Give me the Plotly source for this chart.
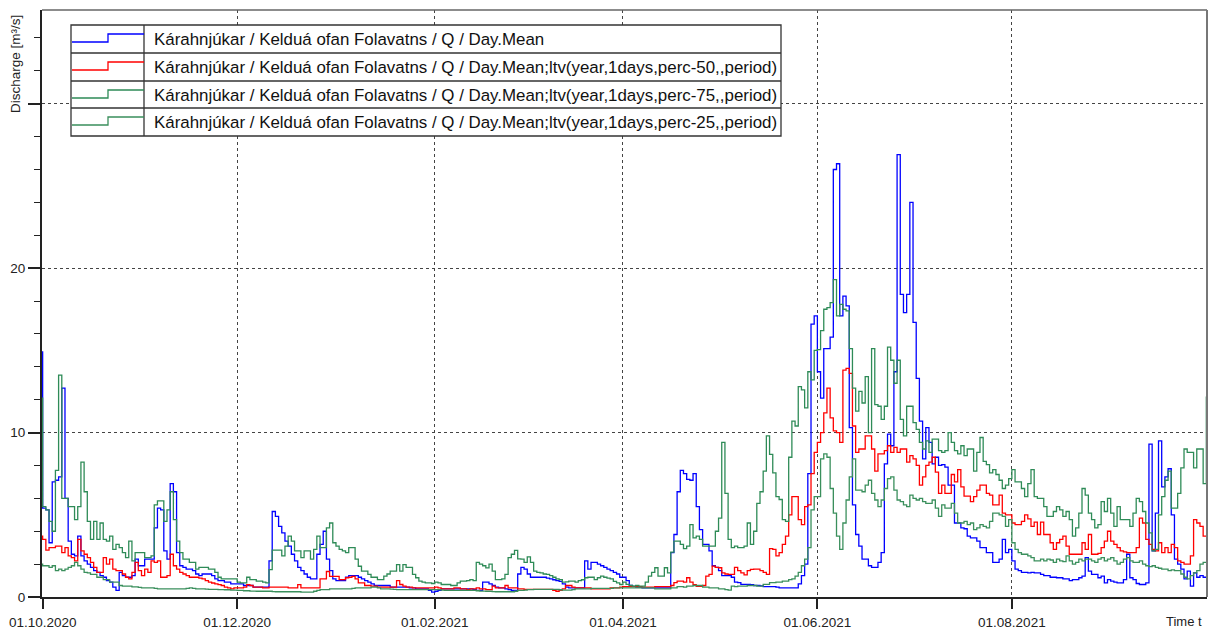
import pandas as pd
import plotly.graph_objects as go

# ---------------- data: daily discharge [m3/s] ----------------
# first value = 30.09.2020, monthly lists Oct 2020 .. Sep 2021, last value = 01.10.2021
b_start = 14.9
b_oct = [5.4, 5.3, 3.3, 7.0, 7.1, 7.3, 12.7, 6.0, 3.4, 2.6, 2.5, 3.7, 2.5, 2.2, 2.0, 1.8, 1.6, 1.5, 1.3, 1.2, 1.0, 0.9, 0.6, 0.4, 1.5, 1.3, 1.2, 1.2, 1.3, 2.3, 1.9]
b_nov = [1.9, 2.3, 2.3, 2.3, 4.2, 5.4, 5.3, 2.8, 2.3, 6.9, 6.4, 2.7, 1.9, 1.8, 1.7, 1.7, 1.6, 1.4, 1.3, 1.4, 1.4, 1.4, 1.3, 1.1, 1.0, 1.0, 0.9, 0.9, 0.8, 0.8]
b_dec = [0.8, 0.8, 0.7, 0.7, 0.7, 0.6, 0.6, 0.6, 0.6, 0.6, 2.2, 5.2, 4.9, 4.3, 3.9, 3.4, 3.1, 2.6, 2.2, 1.8, 1.6, 1.4, 1.2, 1.1, 1.1, 2.6, 3.2, 4.0, 2.3, 1.6, 1.1]
b_jan = [1.0, 1.0, 1.0, 1.2, 1.3, 1.3, 1.3, 1.2, 1.1, 1.0, 0.9, 0.8, 0.7, 0.7, 0.7, 0.7, 0.7, 0.6, 0.6, 0.6, 0.6, 0.6, 0.6, 0.55, 0.55, 0.5, 0.5, 0.5, 0.5, 0.4, 0.3]
b_feb = [0.35, 0.4, 0.5, 0.5, 0.5, 0.5, 0.5, 0.5, 0.5, 0.5, 0.5, 0.5, 0.45, 0.4, 0.4, 0.9, 0.9, 0.8, 0.7, 0.6, 0.55, 0.55, 0.5, 0.45, 0.4, 0.4, 1.4, 1.8]
b_mar = [1.7, 1.4, 1.2, 1.2, 1.2, 1.2, 1.2, 1.15, 1.1, 1.05, 1.0, 0.95, 0.8, 0.6, 0.55, 0.55, 0.55, 0.55, 0.55, 2.2, 1.7, 2.1, 2.1, 2.0, 1.9, 1.8, 1.7, 1.6, 1.5, 1.4, 1.2]
b_apr = [1.2, 1.0, 0.7, 0.65, 0.6, 0.6, 0.55, 0.55, 0.55, 0.55, 0.55, 0.55, 0.55, 0.55, 0.55, 2.7, 3.8, 6.4, 7.7, 7.5, 7.15, 7.1, 7.5, 5.5, 4.1, 3.2, 3.2, 2.8, 1.9, 1.8]
b_may = [1.6, 1.3, 1.3, 1.3, 1.2, 0.9, 0.87, 0.77, 0.77, 0.77, 0.75, 0.7, 0.7, 0.68, 0.63, 0.63, 0.63, 0.63, 0.6, 0.56, 0.55, 0.55, 0.55, 0.55, 0.55, 0.8, 1.3, 2.0, 7.5, 16.6, 17.1]
b_jun = [13.7, 12.1, 15.1, 15.1, 15.8, 26.0, 26.35, 17.1, 18.3, 17.7, 10.3, 5.6, 3.8, 3.1, 2.3, 2.3, 1.9, 1.8, 1.8, 2.1, 2.7, 8.1, 9.9, 9.2, 13.7, 26.9, 18.4, 17.3, 18.4, 24.0]
b_jul = [16.7, 13.3, 10.7, 8.4, 10.3, 9.4, 8.1, 8.5, 8.0, 8.05, 7.9, 6.8, 6.8, 4.5, 4.5, 4.2, 4.15, 3.7, 3.6, 3.6, 3.4, 3.0, 3.0, 2.7, 2.7, 2.1, 2.1, 2.3, 3.5, 2.7, 2.9]
b_aug = [2.2, 1.7, 1.6, 1.5, 1.5, 1.47, 1.5, 1.47, 1.47, 1.37, 1.3, 1.3, 1.2, 1.2, 1.17, 1.17, 1.1, 1.1, 1.0, 1.06, 1.06, 1.17, 1.27, 2.4, 1.57, 1.37, 1.37, 1.17, 1.27, 0.86, 1.06]
b_sep = [0.96, 0.9, 0.86, 0.86, 1.06, 2.6, 1.17, 1.06, 0.82, 0.76, 0.76, 0.86, 9.3, 2.8, 5.1, 9.5, 6.7, 7.3, 7.8, 5.0, 2.3, 2.0, 1.7, 1.1, 1.57, 0.66, 1.47, 1.2, 1.3, 1.2]
b_end = 1.2

r_start = 3.7
r_oct = [3.5, 2.85, 3.0, 3.0, 3.1, 3.1, 2.7, 3.0, 2.5, 2.4, 2.2, 3.5, 2.8, 2.6, 2.4, 2.1, 1.8, 1.5, 1.5, 2.4, 2.0, 2.3, 1.7, 1.6, 1.6, 1.4, 1.2, 1.1, 1.5, 2.1, 1.6]
r_nov = [1.3, 1.7, 1.5, 2.2, 2.1, 2.2, 1.2, 1.2, 1.3, 2.6, 1.9, 1.7, 1.5, 1.4, 1.3, 1.2, 1.2, 1.2, 1.15, 1.1, 1.0, 0.9, 0.85, 0.8, 0.75, 0.7, 0.6, 0.55, 0.5, 0.55]
r_dec = [0.55, 0.55, 0.6, 0.75, 0.7, 0.6, 0.6, 0.6, 0.55, 0.55, 0.6, 0.6, 0.6, 0.6, 0.6, 0.6, 0.55, 0.55, 0.55, 0.75, 0.55, 0.55, 0.55, 0.55, 0.55, 0.55, 1.1, 1.1, 1.55, 1.26, 1.26]
r_jan = [1.26, 1.06, 1.06, 1.17, 1.2, 1.26, 1.1, 0.86, 0.86, 0.7, 0.7, 0.66, 0.66, 0.6, 0.6, 0.6, 0.6, 0.6, 0.6, 1.0, 0.76, 0.66, 0.6, 0.6, 0.55, 0.55, 0.55, 0.55, 0.55, 0.55, 0.55]
r_feb = [0.6, 0.55, 0.5, 0.5, 0.5, 0.5, 0.55, 0.55, 0.5, 0.5, 0.45, 0.5, 0.5, 0.55, 0.5, 0.5, 0.45, 0.45, 0.66, 0.55, 0.55, 0.55, 0.7, 0.55, 0.55, 0.55, 0.5, 0.5]
r_mar = [0.46, 0.46, 0.46, 0.46, 0.46, 0.46, 0.46, 0.46, 0.46, 0.4, 0.35, 0.4, 0.5, 0.7, 0.7, 0.6, 0.55, 0.55, 0.55, 0.55, 0.55, 0.5, 0.5, 0.5, 0.5, 0.5, 0.5, 0.55, 0.55, 0.55, 0.6]
r_apr = [0.63, 0.63, 0.63, 0.63, 0.63, 0.63, 0.6, 0.6, 0.6, 0.6, 0.63, 0.63, 0.63, 0.63, 0.63, 0.7, 0.87, 0.97, 0.97, 0.9, 1.17, 0.9, 0.75, 0.65, 0.65, 0.7, 1.27, 1.37, 1.88, 1.8]
r_may = [1.78, 1.47, 1.4, 1.37, 1.37, 1.8, 1.6, 1.47, 1.35, 1.6, 1.68, 1.7, 1.7, 1.6, 1.5, 1.37, 2.94, 2.9, 2.5, 2.7, 3.2, 3.7, 5.0, 6.1, 6.1, 4.7, 4.4, 5.5, 5.6, 7.5, 8.8]
r_jun = [9.4, 10.0, 11.2, 12.7, 10.9, 10.1, 10.0, 9.4, 13.8, 13.9, 13.6, 10.4, 8.8, 9.0, 9.0, 9.8, 9.8, 9.0, 7.65, 8.7, 8.7, 8.9, 9.2, 8.8, 9.1, 8.8, 9.0, 9.0, 8.2, 8.6]
r_jul = [8.4, 8.0, 6.8, 7.3, 8.0, 8.2, 8.5, 7.6, 6.3, 6.8, 6.3, 6.3, 7.45, 7.0, 7.75, 6.7, 6.13, 6.13, 5.8, 6.1, 6.5, 6.8, 6.8, 6.3, 6.2, 5.6, 5.6, 6.2, 5.1, 5.0, 5.0]
r_aug = [4.5, 4.4, 4.4, 4.6, 5.0, 4.75, 4.3, 4.55, 3.8, 4.55, 3.8, 3.8, 3.3, 2.9, 3.3, 3.5, 3.7, 3.1, 2.6, 2.6, 2.6, 2.6, 3.3, 2.9, 3.8, 2.6, 2.6, 2.65, 3.0, 3.4, 4.0]
r_sep = [3.4, 3.2, 3.0, 2.8, 2.75, 2.7, 2.7, 2.7, 3.0, 4.8, 4.5, 3.5, 3.2, 2.9, 2.8, 3.3, 2.7, 3.0, 2.7, 3.2, 3.0, 2.2, 2.1, 2.0, 2.0, 2.5, 4.7, 4.5, 4.3, 3.7]
r_end = 3.7

g75_start = 12.1
g75_oct = [5.5, 5.3, 4.6, 4.0, 7.7, 13.5, 6.0, 6.0, 5.5, 5.5, 4.7, 5.5, 8.2, 6.4, 4.6, 3.5, 4.6, 3.5, 4.5, 3.5, 3.4, 3.7, 2.9, 3.2, 3.0, 2.7, 2.4, 3.4, 2.2, 2.7, 2.7]
g75_nov = [2.7, 2.4, 2.4, 2.5, 5.6, 5.85, 5.85, 4.6, 5.3, 6.4, 4.7, 3.4, 2.7, 2.3, 2.3, 2.1, 2.1, 1.7, 1.8, 1.8, 1.8, 1.7, 1.7, 1.5, 1.2, 1.1, 1.1, 1.1, 1.1, 1.1]
g75_dec = [0.9, 0.86, 0.86, 1.2, 1.06, 1.06, 0.96, 0.96, 0.9, 0.86, 1.67, 2.85, 2.85, 2.85, 2.5, 3.1, 3.7, 3.4, 2.8, 2.8, 2.4, 2.8, 2.8, 2.3, 2.9, 3.7, 3.0, 3.0, 4.2, 4.5, 3.3]
g75_jan = [3.1, 2.9, 2.8, 2.7, 3.0, 3.0, 2.3, 1.87, 1.57, 1.57, 1.37, 1.2, 1.2, 1.06, 1.06, 1.27, 1.4, 1.57, 1.57, 1.97, 1.57, 1.97, 1.8, 1.8, 1.37, 1.17, 0.96, 0.9, 0.86, 0.86, 0.82]
g75_feb = [0.9, 0.86, 0.76, 0.76, 0.76, 0.7, 0.7, 0.86, 0.96, 0.96, 1.0, 1.06, 1.0, 2.1, 2.0, 1.9, 1.77, 2.0, 1.57, 1.06, 1.06, 1.1, 1.37, 2.4, 2.6, 2.83, 2.32, 2.3]
g75_mar = [2.1, 2.44, 2.1, 1.57, 1.5, 1.47, 1.4, 1.37, 1.3, 1.2, 1.1, 1.06, 0.9, 0.92, 0.96, 0.96, 0.9, 1.0, 1.05, 1.17, 1.2, 1.2, 1.06, 1.17, 1.27, 1.2, 1.15, 1.1, 0.95, 0.86, 0.76]
g75_apr = [0.9, 0.77, 0.7, 0.66, 0.7, 0.66, 0.66, 0.9, 1.27, 1.5, 1.78, 1.27, 1.27, 1.78, 1.47, 2.73, 3.4, 3.4, 3.2, 2.94, 3.1, 4.4, 3.6, 3.7, 3.5, 3.1, 3.1, 3.1, 3.1, 4.0]
g75_may = [4.8, 9.4, 6.3, 3.5, 3.0, 3.1, 3.0, 3.0, 3.1, 4.5, 3.2, 4.0, 5.7, 6.4, 7.66, 9.8, 8.67, 7.55, 6.1, 5.93, 4.7, 4.6, 8.5, 10.7, 10.4, 12.8, 12.6, 11.5, 13.7, 13.2, 15.0]
g75_jun = [15.05, 16.2, 17.5, 17.6, 17.9, 19.3, 17.1, 17.8, 17.5, 17.4, 15.1, 12.7, 11.3, 12.5, 11.8, 13.4, 10.0, 15.1, 11.7, 11.6, 10.8, 11.6, 15.2, 14.4, 13.0, 14.4, 10.8, 9.8, 11.6, 11.6]
g75_jul = [10.6, 10.2, 9.4, 9.0, 9.5, 8.8, 9.6, 9.6, 8.9, 8.8, 8.9, 10.0, 9.4, 8.9, 8.7, 9.2, 8.6, 9.0, 9.0, 7.65, 8.8, 9.7, 8.25, 8.05, 7.55, 7.75, 7.45, 7.1, 6.6, 6.8, 7.2]
g75_aug = [7.75, 7.0, 7.0, 6.6, 6.1, 6.9, 7.75, 6.1, 6.0, 6.0, 5.5, 4.9, 4.9, 5.2, 5.5, 5.3, 4.9, 5.2, 4.7, 3.7, 4.2, 5.1, 6.6, 6.2, 5.1, 4.7, 4.2, 4.4, 5.8, 5.2, 6.0]
g75_sep = [5.1, 4.3, 5.5, 4.7, 4.7, 4.7, 4.3, 5.1, 6.0, 5.8, 5.2, 4.5, 3.9, 2.8, 2.9, 5.0, 6.1, 7.1, 7.65, 5.4, 5.4, 6.3, 7.85, 9.0, 8.8, 8.8, 7.85, 9.0, 9.0, 6.9]
g75_end = 12.2

g25_start = 2.0
g25_oct = [1.9, 1.9, 1.8, 1.9, 1.6, 1.7, 1.6, 1.7, 1.8, 1.9, 2.1, 1.9, 1.7, 1.5, 1.47, 1.37, 1.37, 1.2, 1.2, 1.06, 1.06, 0.9, 0.9, 0.9, 0.7, 0.66, 0.66, 0.66, 0.62, 0.62, 0.58]
g25_nov = [0.55, 0.55, 0.55, 0.55, 0.52, 0.5, 0.5, 0.5, 0.5, 0.5, 0.5, 0.5, 0.5, 0.5, 0.52, 0.55, 0.52, 0.5, 0.5, 0.5, 0.48, 0.46, 0.46, 0.46, 0.45, 0.45, 0.44, 0.44, 0.42, 0.42]
g25_dec = [0.4, 0.4, 0.38, 0.38, 0.36, 0.36, 0.35, 0.35, 0.35, 0.35, 0.35, 0.33, 0.32, 0.32, 0.32, 0.32, 0.32, 0.32, 0.32, 0.32, 0.3, 0.3, 0.3, 0.3, 0.35, 0.4, 0.45, 0.45, 0.45, 0.5, 0.5]
g25_jan = [0.5, 0.5, 0.5, 0.5, 0.5, 0.52, 0.55, 0.55, 0.55, 0.55, 0.55, 0.6, 0.6, 0.55, 0.5, 0.5, 0.5, 0.48, 0.46, 0.45, 0.45, 0.45, 0.45, 0.45, 0.45, 0.45, 0.45, 0.45, 0.45, 0.45, 0.45]
g25_feb = [0.45, 0.45, 0.42, 0.4, 0.4, 0.4, 0.4, 0.4, 0.4, 0.4, 0.4, 0.4, 0.4, 0.38, 0.36, 0.36, 0.35, 0.35, 0.33, 0.32, 0.32, 0.32, 0.32, 0.32, 0.32, 0.35, 0.4, 0.4]
g25_mar = [0.42, 0.45, 0.45, 0.46, 0.46, 0.46, 0.46, 0.46, 0.46, 0.46, 0.46, 0.44, 0.42, 0.42, 0.42, 0.45, 0.5, 0.5, 0.5, 0.5, 0.5, 0.52, 0.52, 0.52, 0.52, 0.52, 0.52, 0.52, 0.55, 0.55, 0.56]
g25_apr = [0.56, 0.56, 0.56, 0.56, 0.56, 0.56, 0.56, 0.56, 0.56, 0.56, 0.5, 0.5, 0.5, 0.5, 0.5, 0.56, 0.56, 0.63, 0.63, 0.6, 0.66, 0.66, 0.7, 0.7, 0.7, 0.6, 0.6, 0.55, 0.55, 0.55]
g25_may = [0.5, 0.5, 0.45, 0.42, 0.66, 0.63, 0.66, 0.66, 0.66, 0.7, 0.7, 0.7, 0.66, 0.66, 0.77, 0.77, 0.87, 0.87, 0.9, 0.9, 0.97, 0.97, 1.06, 1.1, 1.27, 1.5, 1.9, 2.3, 3.0, 5.3, 6.1]
g25_jun = [6.1, 8.4, 8.7, 8.5, 6.6, 5.1, 3.7, 2.9, 4.5, 5.9, 7.3, 8.4, 6.5, 6.5, 6.4, 6.8, 7.1, 6.3, 5.9, 5.5, 5.9, 6.6, 7.2, 7.3, 6.5, 5.9, 5.8, 5.6, 5.5, 6.2]
g25_jul = [6.0, 5.9, 6.0, 5.8, 5.7, 5.7, 5.9, 5.4, 4.9, 5.6, 5.4, 5.4, 5.7, 5.1, 4.5, 4.5, 4.6, 4.4, 4.5, 4.1, 4.2, 4.4, 4.3, 4.2, 4.6, 5.1, 5.1, 5.0, 4.9, 4.3, 4.7]
g25_aug = [3.3, 2.9, 2.7, 2.6, 2.6, 2.5, 2.4, 2.2, 2.2, 2.3, 2.2, 2.3, 2.25, 2.1, 2.3, 2.2, 2.15, 2.5, 2.2, 2.0, 2.1, 2.3, 2.2, 2.3, 2.3, 2.2, 2.1, 2.3, 2.4, 2.2, 2.3]
g25_sep = [2.4, 2.2, 2.0, 2.1, 2.3, 2.4, 2.2, 2.1, 2.1, 2.2, 2.0, 1.9, 1.85, 1.9, 1.8, 1.75, 1.7, 1.7, 1.6, 1.65, 1.6, 1.6, 1.4, 1.2, 1.1, 1.3, 1.47, 1.6, 2.0, 2.1]
g25_end = 2.1

x_tick_dates = ["2020-10-01", "2020-12-01", "2021-02-01", "2021-04-01", "2021-06-01", "2021-08-01"]
x_tick_text = ["01.10.2020", "01.12.2020", "01.02.2021", "01.04.2021", "01.06.2021", "01.08.2021"]
y_tick_vals = [0, 10, 20, 30]
y_tick_text = ["0", "10", "20", ""]

base = "Kárahnjúkar / Kelduá ofan Folavatns / Q / Day.Mean"
series_names = [base,
                base + ";ltv(year,1days,perc-50,,period)",
                base + ";ltv(year,1days,perc-75,,period)",
                base + ";ltv(year,1days,perc-25,,period)"]
series_colors = ["#0000FF", "#FF0000", "#2E8B57", "#3A8F5C"]


def build(start, months, end):
    vals = [start]
    for m in months:
        vals += m
    vals.append(end)
    return vals


blue = build(b_start, [b_oct, b_nov, b_dec, b_jan, b_feb, b_mar, b_apr, b_may, b_jun, b_jul, b_aug, b_sep], b_end)
red = build(r_start, [r_oct, r_nov, r_dec, r_jan, r_feb, r_mar, r_apr, r_may, r_jun, r_jul, r_aug, r_sep], r_end)
g75 = build(g75_start, [g75_oct, g75_nov, g75_dec, g75_jan, g75_feb, g75_mar, g75_apr, g75_may, g75_jun, g75_jul, g75_aug, g75_sep], g75_end)
g25 = build(g25_start, [g25_oct, g25_nov, g25_dec, g25_jan, g25_feb, g25_mar, g25_apr, g25_may, g25_jun, g25_jul, g25_aug, g25_sep], g25_end)

dates = pd.date_range("2020-09-30", periods=367, freq="D")
for s in (blue, red, g75, g25):
    assert len(s) == len(dates), len(s)

# ---------------- figure ----------------
W, H = 1212, 630
ML, MR, MT, MB = 42, 5, 10, 33
PW, PH = W - ML - MR, H - MT - MB


def px(x):
    return (x - ML) / PW


def py(y):
    return (H - MB - y) / PH


FONT = "Liberation Sans, Arial, sans-serif"
fig = go.Figure()
for vals, name, col in zip([blue, red, g75, g25], series_names, series_colors):
    fig.add_trace(go.Scatter(x=dates, y=vals, mode="lines", name=name,
                             line=dict(color=col, width=1.3, shape="hv"),
                             showlegend=False))

grid = dict(showgrid=True, gridcolor="#444444", gridwidth=1, griddash="3px,3px")
fig.update_xaxes(range=["2020-09-30 19:00", "2021-10-01 05:00"], tickmode="array",
                 tickvals=x_tick_dates, ticktext=x_tick_text, automargin=False,
                 ticks="outside", ticklen=10, tickwidth=1.5, tickcolor="#222222",
                 ticklabelstandoff=2,
                 showline=True, linecolor="#222222", linewidth=1.5, layer="below traces",
                 tickfont=dict(family=FONT, size=13.5, color="#222222"),
                 zeroline=False, **grid)
fig.update_yaxes(range=[0, 35.7], tickmode="array", tickvals=y_tick_vals, ticktext=y_tick_text,
                 automargin=False,
                 ticks="outside", ticklen=12, tickwidth=1.5, tickcolor="#222222",
                 minor=dict(tickmode="linear", tick0=0, dtick=2, ticks="outside", ticklen=6,
                            tickwidth=1.2, tickcolor="#222222", showgrid=False),
                 showline=True, linecolor="#222222", linewidth=2, layer="below traces",
                 tickfont=dict(family=FONT, size=13.5, color="#222222"),
                 zeroline=False, **grid)

shapes = []
# frame (top / right)
shapes.append(dict(type="line", xref="paper", yref="paper", x0=0, x1=1, y0=1, y1=1,
                   line=dict(color="#666666", width=1.5), layer="above"))
shapes.append(dict(type="line", xref="paper", yref="paper", x0=1, x1=1, y0=0, y1=1,
                   line=dict(color="#777777", width=2), layer="above"))

# legend table
LX0, LX1, LDIV = 71, 781, 144
row_tops = [25, 53, 81, 108]
LY1 = 136
shapes.append(dict(type="rect", xref="paper", yref="paper", x0=px(LX0), x1=px(LX1),
                   y0=py(LY1), y1=py(row_tops[0]), fillcolor="white",
                   line=dict(color="#333333", width=1.3), layer="above"))
for t in row_tops[1:]:
    shapes.append(dict(type="line", xref="paper", yref="paper", x0=px(LX0), x1=px(LX1),
                       y0=py(t), y1=py(t), line=dict(color="#333333", width=1.3), layer="above"))
shapes.append(dict(type="line", xref="paper", yref="paper", x0=px(LDIV), x1=px(LDIV),
                   y0=py(LY1), y1=py(row_tops[0]), line=dict(color="#333333", width=1.3), layer="above"))

annotations = []
for t, name, col in zip(row_tops, series_names, series_colors):
    lo, hi = py(t + 17), py(t + 9)
    path = (f"M {px(72):.5f} {lo:.5f} L {px(108):.5f} {lo:.5f} "
            f"L {px(108):.5f} {hi:.5f} L {px(LDIV):.5f} {hi:.5f}")
    shapes.append(dict(type="path", xref="paper", yref="paper", path=path,
                       line=dict(color=col, width=1.3), layer="above"))
    annotations.append(dict(x=px(152), y=py(t + 14.5), xref="paper", yref="paper",
                            text=name, showarrow=False, xanchor="left", yanchor="middle",
                            font=dict(family=FONT, size=16.9, color="#111111")))

annotations.append(dict(x=px(16), y=py(64), xref="paper", yref="paper", text="Discharge [m³/s]",
                        textangle=-90, showarrow=False, xanchor="center", yanchor="middle",
                        font=dict(family=FONT, size=13.5, color="#222222")))
annotations.append(dict(x=px(1204), y=py(621), xref="paper", yref="paper", text="Time t",
                        showarrow=False, xanchor="right", yanchor="middle",
                        font=dict(family=FONT, size=13, color="#222222")))

fig.update_layout(width=W, height=H, margin=dict(l=ML, r=MR, t=MT, b=MB, autoexpand=False),
                  paper_bgcolor="white", plot_bgcolor="white",
                  shapes=shapes, annotations=annotations, showlegend=False,
                  font=dict(family=FONT))
fig.write_html("out.html", config={"displayModeBar": False},
               post_script="document.body.style.margin='0px';document.body.style.overflow='hidden';")
